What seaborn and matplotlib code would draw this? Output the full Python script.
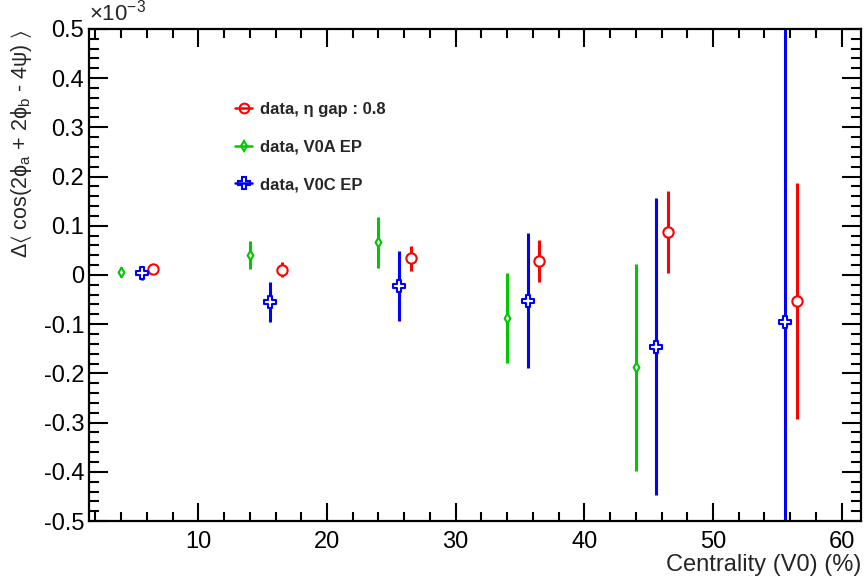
import numpy as np
import pandas as pd
import matplotlib
matplotlib.use("Agg")
import matplotlib.pyplot as plt
import seaborn as sns
from matplotlib.lines import Line2D
from matplotlib.ticker import MultipleLocator, FuncFormatter

# values in units of 1e-3
cent_v0a = [4.0, 14.0, 24.0, 34.0, 44.0]
val_v0a = [0.006, 0.040, 0.066, -0.087, -0.188]
err_v0a = [0.010, 0.028, 0.052, 0.091, 0.210]

cent_v0c = [5.6, 15.6, 25.6, 35.6, 45.6, 55.6]
val_v0c = [0.004, -0.055, -0.022, -0.052, -0.146, -0.095]
err_v0c = [0.015, 0.040, 0.071, 0.137, 0.302, 0.750]

cent_eta = [6.5, 16.5, 26.5, 36.5, 46.5, 56.5]
val_eta = [0.013, 0.011, 0.034, 0.029, 0.087, -0.053]
err_eta = [0.005, 0.015, 0.025, 0.043, 0.083, 0.240]

labels = ["data, \u03b7 gap : 0.8", "data, V0A EP", "data, V0C EP"]
colors = ["#ff0000", "#00c800", "#0000ff"]

df = pd.concat([
    pd.DataFrame({"cent": cent_eta, "val": val_eta, "err": err_eta, "set": labels[0]}),
    pd.DataFrame({"cent": cent_v0a, "val": val_v0a, "err": err_v0a, "set": labels[1]}),
    pd.DataFrame({"cent": cent_v0c, "val": val_v0c, "err": err_v0c, "set": labels[2]}),
])

sns.set_style("ticks")
plt.rcParams['font.family'] = ['Liberation Sans', 'DejaVu Sans']
plt.rcParams['mathtext.fontset'] = 'custom'
plt.rcParams['mathtext.rm'] = 'Liberation Sans'
plt.rcParams['mathtext.it'] = 'Liberation Sans'
plt.rcParams['mathtext.default'] = 'regular'

fig = plt.figure(figsize=(8.64, 5.77), dpi=100)
ax = fig.add_axes([0.103, 0.097, 0.8935, 0.853])

markers = {labels[0]: "o", labels[1]: "d", labels[2]: "P"}
msizes = {labels[0]: 55, labels[1]: 24, labels[2]: 70}
palette = dict(zip(labels, colors))

# error bars first, markers on top
for name, g in df.groupby("set"):
    ax.vlines(g["cent"], g["val"] - g["err"], g["val"] + g["err"],
              color=palette[name], lw=2.2, zorder=2)

for name in labels:
    sub = df[df["set"] == name]
    sns.scatterplot(data=sub, x="cent", y="val", marker=markers[name],
                    s=msizes[name], facecolor="white", edgecolor=palette[name],
                    linewidth=1.5, ax=ax, zorder=3, legend=False)

ax.set_xlim(1.5, 61.5)
ax.set_ylim(-0.5, 0.5)

ax.xaxis.set_major_locator(MultipleLocator(10))
ax.xaxis.set_minor_locator(MultipleLocator(2))
ax.yaxis.set_major_locator(MultipleLocator(0.1))
ax.yaxis.set_minor_locator(MultipleLocator(0.02))
ax.yaxis.set_major_formatter(FuncFormatter(lambda v, p: "%g" % round(v, 3)))

ax.tick_params(axis="both", which="both", direction="in", top=True, right=True,
               colors="black", width=1.5, labelsize=17)
ax.tick_params(axis="y", which="major", length=14)
ax.tick_params(axis="y", which="minor", length=7)
ax.tick_params(axis="x", which="major", length=13, pad=7)
ax.tick_params(axis="x", which="minor", length=6.5)

for sp in ax.spines.values():
    sp.set_linewidth(1.6)
    sp.set_color("black")

ax.set_xlabel("Centrality (V0) (%)", fontsize=17, loc="right", labelpad=1)
ax.set_ylabel(r"$\Delta\langle$ cos(2$\phi_{a}$ + 2$\phi_{b}$ - 4$\psi$) $\rangle$",
              fontsize=15.5, loc="top", labelpad=7)

fig.text(0.103, 0.955, r"$\times10^{-3}$", fontsize=16, ha="left", va="bottom")

handles = [Line2D([], [], color=c, marker=m, markersize=ms, markerfacecolor="none",
                  markeredgewidth=1.5, lw=1.8)
           for c, m, ms in zip(colors, ["o", "d", "P"], [7, 5, 8])]
ax.legend(handles, labels, loc="upper left", bbox_to_anchor=(0.255, 0.849),
          bbox_transform=fig.transFigure, frameon=False, handlelength=1.0,
          handletextpad=0.5, labelspacing=1.35, prop={"weight": "bold", "size": 12})

sns.despine(ax=ax, top=False, right=False)
fig.savefig("out.png", dpi=100)
